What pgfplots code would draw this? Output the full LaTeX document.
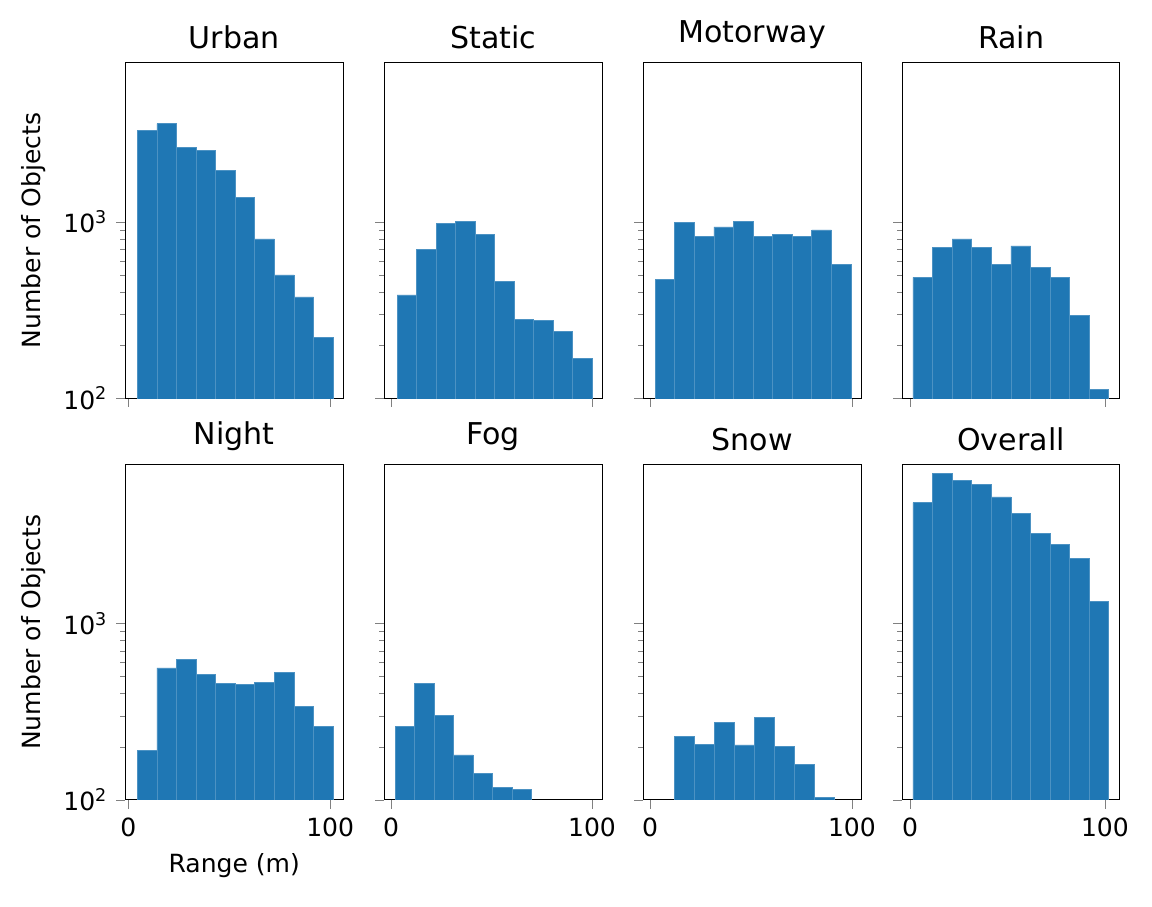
\documentclass[border=0pt]{standalone}
\usepackage{pgfplots}
\pgfplotsset{compat=1.18}
\usepgfplotslibrary{groupplots}
\usepackage{fontspec}
\setmainfont{DejaVu Sans}
\definecolor{c0}{RGB}{31,119,180}
\begin{document}
\begin{tikzpicture}
\pgfplotsset{every axis/.style={font=\fontsize{10}{12}\selectfont}}
\begin{groupplot}[group style={group size=4 by 2, horizontal sep=16.4pt, vertical sep=26.4pt, group name=G},
  width=87pt, height=134pt, scale only axis,
  ymode=log, ymin=100, ymax=8000, ytick={100,1000}, yticklabels={},
  tick align=outside, xtick pos=bottom, ytick pos=left,
  major tick length=3.5pt, minor tick length=2pt,
  xtick={0,100}, xticklabels={},
  title style={font=\fontsize{12}{14}\selectfont, yshift=-4pt},
  hist/.style={ybar interval, fill=c0, draw=c0!80!white, line width=0.3pt}]
\nextgroupplot[title=Urban, xmin=-1.5, xmax=106.4, yticklabels={10\textsuperscript{2},10\textsuperscript{3}}, ylabel={Number of Objects}]
\addplot[hist] table {
4.5 3300
14.2 3600
23.9 2650
33.6 2550
43.3 1950
53.0 1370
62.7 800
72.4 500
82.1 375
91.8 220
101.5 220
};
\nextgroupplot[title=Static, xmin=-3.5, xmax=105]
\addplot[hist] table {
3.0 385
12.7 700
22.4 975
32.1 1000
41.8 850
51.5 460
61.2 280
70.9 275
80.6 240
90.3 168
100.0 168
};
\nextgroupplot[title=Motorway, xmin=-3.5, xmax=104.5]
\addplot[hist] table {
2.5 470
12.2 990
21.9 830
31.6 935
41.3 1000
51.0 830
60.7 850
70.4 830
80.1 900
89.8 575
99.5 575
};
\nextgroupplot[title=Rain, xmin=-4.1, xmax=107.7]
\addplot[hist] table {
1.5 485
11.55 720
21.6 800
31.65 720
41.7 575
51.75 730
61.8 550
71.85 485
81.9 295
91.95 112
102.0 112
};
\nextgroupplot[title=Night, xmin=-1.5, xmax=106.4, yticklabels={10\textsuperscript{2},10\textsuperscript{3}}, ylabel={Number of Objects}, xlabel={Range (m)}, xticklabels={0,100}]
\addplot[hist] table {
4.5 190
14.2 560
23.9 625
33.6 515
43.3 460
53.0 450
62.7 465
72.4 530
82.1 340
91.8 260
101.5 260
};
\nextgroupplot[title=Fog, xmin=-3.5, xmax=105, xticklabels={0,100}]
\addplot[hist] table {
2.0 262
11.7 458
21.4 300
31.1 180
40.8 142
50.5 118
60.2 115
69.9 115
};
\nextgroupplot[title=Snow, xmin=-3.5, xmax=104.5, xticklabels={0,100}]
\addplot[hist] table {
11.9 230
21.8 207
31.7 275
41.6 205
51.5 295
61.4 200
71.3 158
81.2 103
91.1 103
};
\nextgroupplot[title=Overall, xmin=-4.1, xmax=107.7, xticklabels={0,100}]
\addplot[hist] table {
1.5 4850
11.55 7100
21.6 6450
31.65 6150
41.7 5220
51.75 4220
61.8 3250
71.85 2820
81.9 2350
91.95 1330
102.0 1330
};
\end{groupplot}
\path[use as bounding box] ([xshift=-50pt,yshift=25pt]G c1r1.north west) rectangle ([xshift=12.8pt,yshift=-42.4pt]G c4r2.south east);
\end{tikzpicture}
\end{document}
